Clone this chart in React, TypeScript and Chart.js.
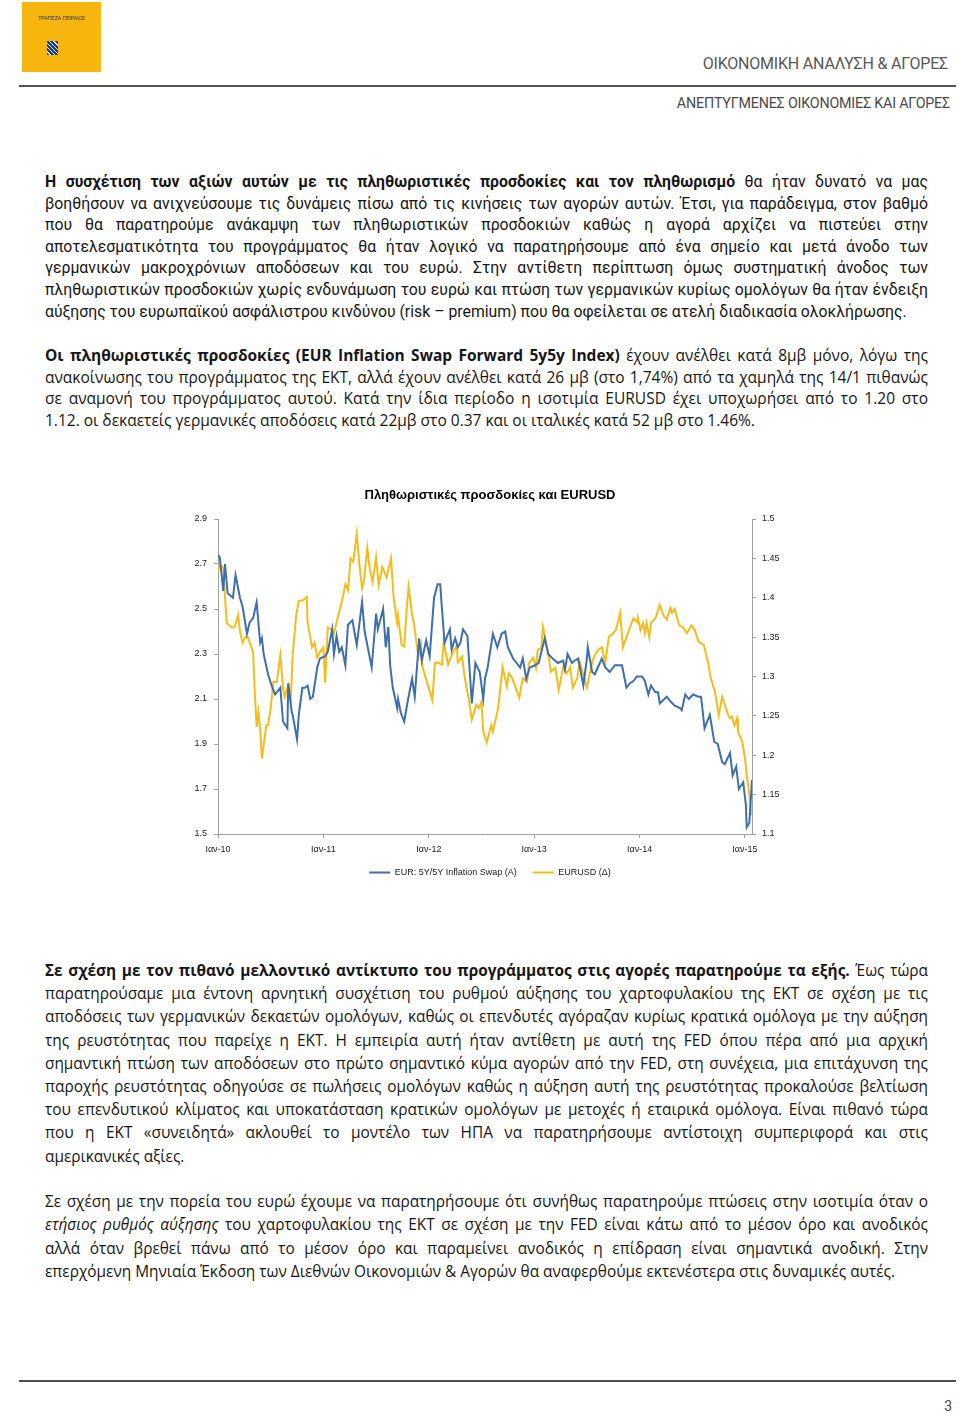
import React, { useEffect, useRef } from "react";
import { Chart, registerables } from "chart.js";

Chart.register(...registerables);

// ---------- chart data ----------
const chartTitle = "Πληθωριστικές προσδοκίες και EURUSD";
const xTickLabels = ["Ιαν-10", "Ιαν-11", "Ιαν-12", "Ιαν-13", "Ιαν-14", "Ιαν-15"];
const swapLabel = "EUR: 5Y/5Y Inflation Swap (A)";
const fxLabel = "EURUSD (Δ)";

// months since Jan 2010
const swapMonths = [
  0.0, 0.2, 0.6, 0.8, 1.1, 1.7, 2.0, 2.5, 2.8, 3.3, 3.6, 4.0, 4.4, 4.8, 5.0, 5.2, 5.7, 6.1, 6.5, 7.1,
  7.4, 7.9, 8.0, 8.4, 8.5, 9.0, 9.2, 9.6, 9.9, 10.2, 10.5, 10.8, 11.3, 11.6, 12.2, 12.5, 13.0, 13.2, 13.5, 13.8,
  14.1, 14.5, 14.8, 15.3, 15.8, 16.4, 16.7, 17.5, 18.0, 18.2, 18.8, 19.1, 19.4, 19.6, 19.9, 20.4, 20.5, 20.8, 21.2, 21.6,
  22.1, 22.4, 22.9, 23.2, 23.7, 24.1, 24.6, 25.0, 25.3, 25.5, 25.8, 26.4, 26.6, 27.0, 27.3, 27.6, 27.9, 28.4, 28.9, 29.3,
  29.8, 30.2, 30.4, 30.7, 31.3, 31.8, 32.3, 32.7, 33.0, 33.6, 34.0, 34.4, 34.7, 35.1, 35.5, 36.1, 36.5, 37.2, 37.6, 38.1,
  38.7, 39.3, 39.5, 39.8, 40.3, 40.6, 41.0, 41.6, 42.0, 42.1, 42.6, 42.9, 43.7, 44.1, 44.6, 45.2, 46.0, 46.5, 46.9, 47.3,
  47.7, 48.3, 48.6, 49.0, 49.3, 49.8, 50.1, 50.3, 51.1, 51.5, 52.0, 52.6, 52.8, 53.2, 53.6, 54.1, 54.7, 55.0, 55.4, 56.0,
  56.5, 56.9, 57.4, 57.7, 58.3, 58.6, 59.0, 59.3, 59.8, 60.1, 60.2, 60.5, 60.8,
];
const swapValues = [
  2.74, 2.73, 2.58, 2.70, 2.57, 2.55, 2.65, 2.55, 2.51, 2.39, 2.44, 2.46, 2.53, 2.35, 2.37, 2.30, 2.21, 2.16, 2.12, 2.15,
  2.00, 1.97, 2.17, 2.04, 2.03, 1.92, 2.03, 2.15, 2.15, 2.16, 2.10, 2.11, 2.24, 2.28, 2.29, 2.31, 2.41, 2.30, 2.38, 2.31,
  2.33, 2.25, 2.43, 2.45, 2.34, 2.53, 2.40, 2.24, 2.48, 2.41, 2.50, 2.33, 2.42, 2.25, 2.15, 2.06, 2.10, 2.04, 2.00, 2.09,
  2.19, 2.11, 2.37, 2.27, 2.36, 2.29, 2.55, 2.61, 2.61, 2.50, 2.35, 2.41, 2.32, 2.37, 2.33, 2.35, 2.41, 2.38, 2.08, 2.26,
  2.22, 2.10, 2.19, 2.24, 2.39, 2.33, 2.39, 2.40, 2.33, 2.28, 2.26, 2.24, 2.28, 2.19, 2.24, 2.25, 2.26, 2.37, 2.30, 2.28,
  2.26, 2.27, 2.23, 2.30, 2.26, 2.27, 2.28, 2.16, 2.28, 2.33, 2.22, 2.21, 2.28, 2.24, 2.22, 2.25, 2.25, 2.15, 2.17, 2.18,
  2.20, 2.20, 2.18, 2.12, 2.16, 2.13, 2.13, 2.08, 2.11, 2.09, 2.07, 2.06, 2.05, 2.12, 2.10, 2.12, 2.11, 2.11, 1.97, 2.03,
  1.91, 1.90, 1.82, 1.81, 1.86, 1.76, 1.80, 1.70, 1.73, 1.63, 1.53, 1.55, 1.74,
];

const fxMonths = [
  0.0, 0.2, 0.6, 0.8, 1.0, 1.6, 1.9, 2.3, 2.5, 2.8, 3.1, 3.4, 4.0, 4.2, 4.4, 4.6, 4.8, 5.0, 5.2, 5.5,
  5.7, 6.0, 6.3, 6.7, 7.1, 7.4, 7.6, 8.0, 8.3, 8.5, 8.9, 9.2, 9.7, 10.1, 10.2, 10.7, 11.0, 11.3, 11.6, 12.0,
  12.2, 12.5, 13.0, 13.2, 13.7, 14.1, 14.5, 14.8, 15.1, 15.4, 15.6, 15.8, 16.1, 16.4, 16.6, 17.0, 17.3, 17.6, 18.0, 18.3,
  18.7, 19.2, 19.7, 20.0, 20.4, 20.5, 20.9, 21.2, 21.5, 21.7, 22.1, 22.3, 22.8, 23.1, 23.3, 23.9, 24.4, 24.7, 25.0, 25.5,
  25.7, 26.2, 26.6, 27.2, 27.3, 27.8, 28.1, 28.6, 28.9, 29.4, 29.7, 30.0, 30.2, 30.6, 31.1, 31.3, 31.9, 32.4, 32.9, 33.1,
  33.5, 34.3, 34.7, 35.2, 35.4, 35.9, 36.2, 36.4, 36.8, 37.0, 37.5, 37.9, 38.4, 38.8, 39.3, 39.7, 40.1, 40.4, 40.9, 41.2,
  41.7, 42.0, 42.6, 42.9, 43.3, 43.7, 44.1, 44.5, 45.0, 45.3, 45.8, 46.1, 46.5, 46.9, 47.3, 47.7, 47.8, 48.1, 48.4, 48.6,
  48.8, 49.1, 49.3, 49.8, 50.3, 50.7, 51.1, 51.5, 51.7, 52.0, 52.5, 52.9, 53.4, 53.9, 54.3, 54.7, 55.3, 55.8, 56.1, 56.6,
  57.0, 57.4, 58.1, 58.3, 58.5, 58.8, 59.1, 59.2, 59.7, 60.0, 60.2, 60.5, 60.7,
];
const fxValues = [
  1.433, 1.442, 1.438, 1.4, 1.368, 1.362, 1.363, 1.378, 1.357, 1.343, 1.35, 1.35, 1.331, 1.277, 1.236, 1.255, 1.234, 1.196, 1.213, 1.238,
  1.238, 1.26, 1.293, 1.293, 1.327, 1.286, 1.274, 1.289, 1.273, 1.327, 1.378, 1.396, 1.397, 1.401, 1.369, 1.337, 1.343, 1.324, 1.331, 1.337,
  1.292, 1.362, 1.359, 1.355, 1.378, 1.395, 1.417, 1.41, 1.45, 1.446, 1.463, 1.481, 1.442, 1.412, 1.42, 1.463, 1.435, 1.42, 1.451, 1.416,
  1.439, 1.426, 1.45, 1.4, 1.368, 1.378, 1.34, 1.338, 1.388, 1.414, 1.378, 1.369, 1.325, 1.34, 1.311, 1.289, 1.27, 1.317, 1.318, 1.315,
  1.344, 1.315, 1.327, 1.34, 1.318, 1.325, 1.298, 1.268, 1.245, 1.264, 1.26, 1.268, 1.23, 1.216, 1.238, 1.23, 1.26, 1.312, 1.287, 1.304,
  1.298, 1.273, 1.298, 1.293, 1.317, 1.324, 1.311, 1.334, 1.336, 1.363, 1.336, 1.306, 1.311, 1.283, 1.312, 1.304, 1.312, 1.286, 1.298, 1.318,
  1.298, 1.286, 1.318, 1.327, 1.334, 1.337, 1.318, 1.35, 1.355, 1.359, 1.381, 1.337, 1.35, 1.362, 1.374, 1.369, 1.375, 1.359, 1.368, 1.355,
  1.368, 1.35, 1.368, 1.374, 1.391, 1.378, 1.372, 1.387, 1.381, 1.386, 1.365, 1.363, 1.355, 1.365, 1.359, 1.344, 1.34, 1.318, 1.298, 1.28,
  1.251, 1.274, 1.251, 1.247, 1.249, 1.238, 1.247, 1.23, 1.217, 1.196, 1.175, 1.15, 1.124,
];

const BLUE = "#3F6EAD";
const YELLOW = "#F5BD1C";
const AXIS = "#a0a0a0";
const CHART_FONT = "'Liberation Sans', Arial, sans-serif";

function InflationChart() {
  const ref = useRef<HTMLCanvasElement>(null);
  useEffect(() => {
    if (!ref.current) return;
    const tickFont = { family: CHART_FONT, size: 9 };
    const chart = new Chart(ref.current, {
      type: "line",
      data: {
        datasets: [
          {
            label: swapLabel,
            data: swapMonths.map((m, i) => ({ x: m, y: swapValues[i] })),
            borderColor: BLUE,
            backgroundColor: BLUE,
            borderWidth: 2,
            pointRadius: 0,
            tension: 0,
            yAxisID: "y",
          },
          {
            label: fxLabel,
            data: fxMonths.map((m, i) => ({ x: m, y: fxValues[i] })),
            borderColor: YELLOW,
            backgroundColor: YELLOW,
            borderWidth: 2,
            pointRadius: 0,
            tension: 0,
            yAxisID: "y1",
          },
        ],
      },
      options: {
        animation: false,
        responsive: false,
        maintainAspectRatio: false,
        layout: { padding: 0 },
        plugins: {
          title: {
            display: true,
            text: chartTitle,
            color: "#000",
            font: { family: CHART_FONT, size: 13, weight: "bold" },
            padding: { top: 8, bottom: 15.4 },
          },
          legend: {
            position: "bottom",
            labels: {
              usePointStyle: true,
              pointStyle: "line",
              pointStyleWidth: 21,
              color: "#222",
              font: { family: CHART_FONT, size: 9 },
              padding: 16,
            },
          },
          tooltip: { enabled: false },
        },
        scales: {
          x: {
            type: "linear",
            min: 0,
            max: 60.8,
            border: { color: AXIS, width: 1 },
            grid: { drawOnChartArea: false, drawTicks: true, tickLength: 4, color: AXIS },
            ticks: {
              stepSize: 12,
              includeBounds: false,
              autoSkip: false,
              maxRotation: 0,
              padding: 6,
              color: "#222",
              font: tickFont,
              callback: (v: any) => xTickLabels[Math.round(Number(v) / 12)] ?? "",
            },
            afterFit: (s: any) => {
              s.height = 18;
            },
          },
          y: {
            position: "left",
            min: 1.5,
            max: 2.9,
            border: { color: AXIS, width: 1 },
            grid: { drawOnChartArea: false, drawTicks: true, tickLength: 4, color: AXIS },
            ticks: {
              stepSize: 0.2,
              padding: 7,
              color: "#222",
              font: tickFont,
              callback: (v: any) => Number(v).toFixed(1),
            },
            afterFit: (s: any) => {
              s.width = 48;
            },
          },
          y1: {
            position: "right",
            min: 1.1,
            max: 1.5,
            border: { color: AXIS, width: 1 },
            grid: { drawOnChartArea: false, drawTicks: true, tickLength: 4, color: AXIS },
            ticks: {
              stepSize: 0.05,
              padding: 6,
              color: "#222",
              font: tickFont,
              callback: (v: any) => String(Math.round(Number(v) * 100) / 100),
            },
            afterFit: (s: any) => {
              s.width = 58;
            },
          },
        },
      },
    } as any);
    return () => chart.destroy();
  }, []);
  return (
    <canvas
      ref={ref}
      width={640}
      height={407}
      style={{ position: "absolute", left: 170, top: 480, width: 640, height: 407 }}
    />
  );
}

// ---------- page text ----------
const TEXT_A = "Roboto, 'Liberation Sans', sans-serif";
const TEXT_B = "'Open Sans', 'Noto Sans', sans-serif";

function Line(props: {
  y: number;
  last?: boolean;
  font: string;
  size: number;
  children: React.ReactNode;
}) {
  return (
    <div
      style={{
        position: "absolute",
        left: 45,
        width: 883,
        top: props.y - 11,
        height: 22,
        lineHeight: "22px",
        fontFamily: props.font,
        fontSize: props.size,
        color: "#161616",
        whiteSpace: "nowrap",
        textAlign: props.last ? "left" : "justify",
        textAlignLast: props.last ? "left" : "justify",
      } as React.CSSProperties}
    >
      {props.children}
    </div>
  );
}

export default function App() {
  const p1 = 15.8;
  const p2 = 15.5;
  const p3 = 15.4;
  return (
    <div
      style={{
        position: "absolute",
        left: 0,
        top: 0,
        width: 960,
        height: 1416,
        background: "#fff",
        overflow: "hidden",
      }}
    >
      {/* logo */}
      <div
        style={{
          position: "absolute",
          left: 22,
          top: 2,
          width: 79,
          height: 70,
          background: "#F6B60E",
        }}
      >
        <div
          style={{
            position: "absolute",
            left: 0,
            width: 79,
            top: 13,
            textAlign: "center",
            fontFamily: TEXT_A,
            fontSize: 5.5,
            color: "#3b3550",
            letterSpacing: -0.1,
          }}
        >
          ΤΡΑΠΕΖΑ ΠΕΙΡΑΙΩΣ
        </div>
        <div
          style={{
            position: "absolute",
            left: 25,
            top: 39,
            width: 11,
            height: 14,
            background:
              "repeating-linear-gradient(45deg, #1d3f8a 0px, #1d3f8a 2px, #e8e4d8 2px, #e8e4d8 3px)",
          }}
        />
      </div>

      {/* header */}
      <div
        style={{
          position: "absolute",
          right: 12,
          top: 54,
          fontFamily: TEXT_A,
          fontSize: 16,
          lineHeight: "20px",
          color: "#575757",
          letterSpacing: -0.2,
        }}
      >
        ΟΙΚΟΝΟΜΙΚΗ ΑΝΑΛΥΣΗ &amp; ΑΓΟΡΕΣ
      </div>
      <div
        style={{
          position: "absolute",
          left: 19,
          width: 937,
          top: 85,
          height: 2,
          background: "#5c5151",
        }}
      />
      <div
        style={{
          position: "absolute",
          right: 10,
          top: 94,
          fontFamily: TEXT_A,
          fontSize: 14.3,
          lineHeight: "18px",
          color: "#4a4a4a",
          letterSpacing: -0.2,
        }}
      >
        ΑΝΕΠΤΥΓΜΕΝΕΣ ΟΙΚΟΝΟΜΙΕΣ ΚΑΙ ΑΓΟΡΕΣ
      </div>

      {/* paragraph 1 */}
      <Line y={182} font={TEXT_A} size={p1}>
        <b>Η συσχέτιση των αξιών αυτών με τις πληθωριστικές προσδοκίες και τον πληθωρισμό</b> θα ήταν δυνατό να μας
      </Line>
      <Line y={203.5} font={TEXT_A} size={p1}>
        βοηθήσουν να ανιχνεύσουμε τις δυνάμεις πίσω από τις κινήσεις των αγορών αυτών. Έτσι, για παράδειγμα, στον βαθμό
      </Line>
      <Line y={225} font={TEXT_A} size={p1}>
        που θα παρατηρούμε ανάκαμψη των πληθωριστικών προσδοκιών καθώς η αγορά αρχίζει να πιστεύει στην
      </Line>
      <Line y={246.5} font={TEXT_A} size={p1}>
        αποτελεσματικότητα του προγράμματος θα ήταν λογικό να παρατηρήσουμε από ένα σημείο και μετά άνοδο των
      </Line>
      <Line y={268} font={TEXT_A} size={p1}>
        γερμανικών μακροχρόνιων αποδόσεων και του ευρώ. Στην αντίθετη περίπτωση όμως συστηματική άνοδος των
      </Line>
      <Line y={290} font={TEXT_A} size={p1}>
        πληθωριστικών προσδοκιών χωρίς ενδυνάμωση του ευρώ και πτώση των γερμανικών κυρίως ομολόγων θα ήταν ένδειξη
      </Line>
      <Line y={311.5} font={TEXT_A} size={p1} last>
        αύξησης του ευρωπαϊκού ασφάλιστρου κινδύνου (risk – premium) που θα οφείλεται σε ατελή διαδικασία ολοκλήρωσης.
      </Line>

      {/* paragraph 2 */}
      <Line y={355} font={TEXT_B} size={p2}>
        <b>Οι πληθωριστικές προσδοκίες (EUR Inflation Swap Forward 5y5y Index)</b> έχουν ανέλθει κατά 8μβ μόνο, λόγω της
      </Line>
      <Line y={376.5} font={TEXT_B} size={p2}>
        ανακοίνωσης του προγράμματος της ΕΚΤ, αλλά έχουν ανέλθει κατά 26 μβ (στο 1,74%) από τα χαμηλά της 14/1 πιθανώς
      </Line>
      <Line y={398} font={TEXT_B} size={p2}>
        σε αναμονή του προγράμματος αυτού. Κατά την ίδια περίοδο η ισοτιμία EURUSD έχει υποχωρήσει από το 1.20 στο
      </Line>
      <Line y={419.5} font={TEXT_B} size={p2} last>
        1.12. οι δεκαετείς γερμανικές αποδόσεις κατά 22μβ στο 0.37 και οι ιταλικές κατά 52 μβ στο 1.46%.
      </Line>

      <InflationChart />

      {/* paragraph 3 */}
      <Line y={971} font={TEXT_B} size={p3}>
        <b>Σε σχέση με τον πιθανό μελλοντικό αντίκτυπο του προγράμματος στις αγορές παρατηρούμε τα εξής.</b> Έως τώρα
      </Line>
      <Line y={994.2} font={TEXT_B} size={p3}>
        παρατηρούσαμε μια έντονη αρνητική συσχέτιση του ρυθμού αύξησης του χαρτοφυλακίου της ΕΚΤ σε σχέση με τις
      </Line>
      <Line y={1017.4} font={TEXT_B} size={p3}>
        αποδόσεις των γερμανικών δεκαετών ομολόγων, καθώς οι επενδυτές αγόραζαν κυρίως κρατικά ομόλογα με την αύξηση
      </Line>
      <Line y={1040.6} font={TEXT_B} size={p3}>
        της ρευστότητας που παρείχε η ΕΚΤ. Η εμπειρία αυτή ήταν αντίθετη με αυτή της FED όπου πέρα από μια αρχική
      </Line>
      <Line y={1063.8} font={TEXT_B} size={p3}>
        σημαντική πτώση των αποδόσεων στο πρώτο σημαντικό κύμα αγορών από την FED, στη συνέχεια, μια επιτάχυνση της
      </Line>
      <Line y={1087} font={TEXT_B} size={p3}>
        παροχής ρευστότητας οδηγούσε σε πωλήσεις ομολόγων καθώς η αύξηση αυτή της ρευστότητας προκαλούσε βελτίωση
      </Line>
      <Line y={1110.2} font={TEXT_B} size={p3}>
        του επενδυτικού κλίματος και υποκατάσταση κρατικών ομολόγων με μετοχές ή εταιρικά ομόλογα. Είναι πιθανό τώρα
      </Line>
      <Line y={1133.4} font={TEXT_B} size={p3}>
        που η ΕΚΤ «συνειδητά» ακλουθεί το μοντέλο των ΗΠΑ να παρατηρήσουμε αντίστοιχη συμπεριφορά και στις
      </Line>
      <Line y={1156.6} font={TEXT_B} size={p3} last>
        αμερικανικές αξίες.
      </Line>

      {/* paragraph 4 */}
      <Line y={1202} font={TEXT_B} size={p3}>
        Σε σχέση με την πορεία του ευρώ έχουμε να παρατηρήσουμε ότι συνήθως παρατηρούμε πτώσεις στην ισοτιμία όταν ο
      </Line>
      <Line y={1225.3} font={TEXT_B} size={p3}>
        <i>ετήσιος ρυθμός αύξησης</i> του χαρτοφυλακίου της ΕΚΤ σε σχέση με την FED είναι κάτω από το μέσον όρο και ανοδικός
      </Line>
      <Line y={1248.6} font={TEXT_B} size={p3}>
        αλλά όταν βρεθεί πάνω από το μέσον όρο και παραμείνει ανοδικός η επίδραση είναι σημαντικά ανοδική. Στην
      </Line>
      <Line y={1271.9} font={TEXT_B} size={p3} last>
        επερχόμενη Μηνιαία Έκδοση των Διεθνών Οικονομιών &amp; Αγορών θα αναφερθούμε εκτενέστερα στις δυναμικές αυτές.
      </Line>

      {/* footer */}
      <div
        style={{
          position: "absolute",
          left: 19,
          width: 937,
          top: 1380,
          height: 2,
          background: "#4f4a4a",
        }}
      />
      <div
        style={{
          position: "absolute",
          right: 8,
          top: 1398,
          fontFamily: TEXT_A,
          fontSize: 14,
          lineHeight: "16px",
          color: "#444",
        }}
      >
        3
      </div>
    </div>
  );
}
